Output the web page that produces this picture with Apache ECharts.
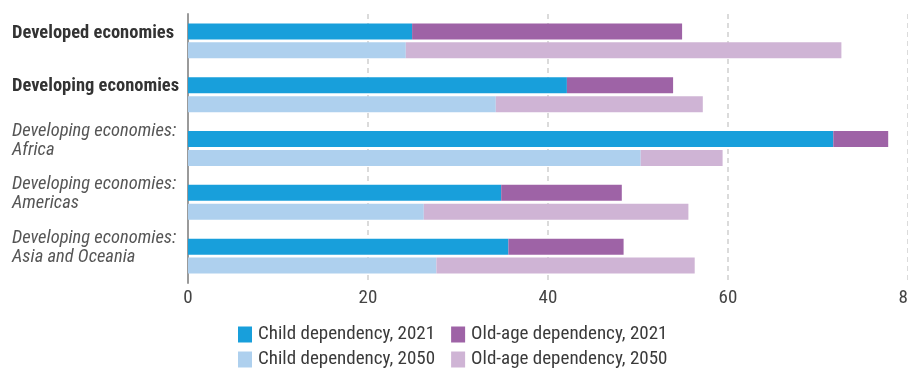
<!DOCTYPE html>
<html>
<head>
<meta charset="utf-8">
<script src="https://cdn.jsdelivr.net/npm/echarts@6/dist/echarts.min.js"></script>
<style>
  html, body { margin: 0; padding: 0; background: #fff; }
  #chart { width: 908px; height: 369px; }
</style>
</head>
<body>
<div id="chart"></div>
<script>
  // categories (top to bottom)
  var categories = [
    'Developed economies',
    'Developing economies',
    'Developing economies:\nAfrica',
    'Developing economies:\nAmericas',
    'Developing economies:\nAsia and Oceania'
  ];
  var boldCats = ['Developed economies', 'Developing economies'];

  var child2021 = [24.9, 42.1, 71.7, 34.8, 35.6];
  var old2021 = [30.0, 11.8, 6.1, 13.4, 12.8];
  var child2050 = [24.2, 34.2, 50.3, 26.2, 27.6];
  var old2050 = [48.4, 23.0, 9.1, 29.4, 28.7];

  var xTicks = [0, 20, 40, 60, 80];

  var FONT = '"Roboto Condensed", "Liberation Sans Narrow", Roboto, sans-serif';

  function bar(name, data, stack, color) {
    return {
      name: name,
      type: 'bar',
      stack: stack,
      data: data,
      barWidth: 16,
      barGap: '18%',
      itemStyle: { color: color },
      emphasis: { disabled: true }
    };
  }

  function legendRow(top, names) {
    return {
      left: 233,
      top: top,
      itemWidth: 14,
      itemHeight: 16,
      itemGap: 16,
      icon: 'rect',
      textStyle: { fontFamily: FONT, fontSize: 19, color: '#3a3a3a', padding: [0, 0, 0, 1] },
      data: names
    };
  }

  var myChart = echarts.init(document.getElementById('chart'), null, { renderer: 'canvas' });
  var option = {
    animation: false,
    textStyle: { fontFamily: FONT },
    grid: { left: 188, right: 0, top: 14, bottom: 86, outerBoundsMode: 'none' },
    legend: [
      legendRow(320, ['Child dependency, 2021', 'Old-age dependency, 2021']),
      legendRow(345, ['Child dependency, 2050', 'Old-age dependency, 2050'])
    ],
    xAxis: {
      type: 'value',
      min: 0,
      max: 80,
      interval: 20,
      axisLine: { show: false },
      axisTick: { show: false },
      splitLine: { show: true, lineStyle: { type: [5, 4], color: '#cfcfcf', width: 1.5 } },
      axisLabel: {
        fontFamily: FONT, fontSize: 19, color: '#444', margin: 6,
        formatter: function (v) { return xTicks.indexOf(v) >= 0 ? String(v) : ''; }
      }
    },
    yAxis: {
      type: 'category',
      inverse: true,
      data: categories,
      axisLine: { show: true, lineStyle: { color: '#9a9a9a', width: 2 } },
      axisTick: { show: false },
      axisLabel: {
        align: 'left',
        margin: 176,
        padding: [0, 0, 16, 0],
        formatter: function (v) {
          if (boldCats.indexOf(v) >= 0) return '{b|' + v + '}';
          return v.split('\n').map(function (s) { return '{i|' + s + '}'; }).join('\n');
        },
        rich: {
          b: { fontFamily: FONT, fontSize: 18.5, fontWeight: 'bold', color: '#333' },
          i: { fontFamily: FONT, fontSize: 18.5, fontStyle: 'italic', color: '#555', lineHeight: 19 }
        }
      }
    },
    series: [
      bar('Child dependency, 2021', child2021, 'y2021', '#189fdb'),
      bar('Old-age dependency, 2021', old2021, 'y2021', '#9e63a6'),
      bar('Child dependency, 2050', child2050, 'y2050', '#aed0ee'),
      bar('Old-age dependency, 2050', old2050, 'y2050', '#cfb4d5')
    ]
  };
  myChart.setOption(option);
</script>
</body>
</html>
